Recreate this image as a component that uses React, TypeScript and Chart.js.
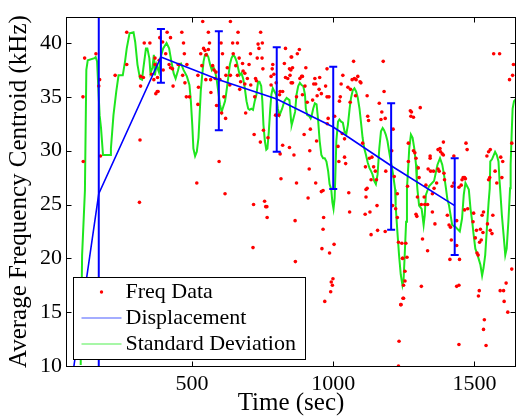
import React, { useEffect, useRef } from "react";
import { Chart, registerables } from "chart.js";

Chart.register(...registerables);
Chart.defaults.font.family = '"Liberation Serif", "Times New Roman", serif';
Chart.defaults.color = "#000";

// ---- axes ----
const xTicks = [500, 1000, 1500];
const yTicks = [10, 15, 20, 25, 30, 35, 40];
const xMin = 54;
const xMax = 1647;
const yMin = 10;
const yMax = 42.4;

// ---- Displacement (blue) with error bars ----
const dispTimes = [82, 170, 390, 595, 800, 1000, 1205, 1430];
const dispValues = [10, 26.0, 38.7, 36.6, 34.8, 32.2, 28.6, 24.9];
const errLow = [null, 9, 36.3, 31.9, 29.9, 26.45, 22.65, 20.3];
const errHigh = [null, 43, 41.3, 41.1, 39.6, 37.8, 34.4, 29.3];

// ---- Standard Deviation (green) trace: [time, kHz] ----
const stdTrace: [number, number][] = [
  [106, 10.1], [111, 20.3], [121, 26.3], [126, 37.5], [131, 38.4], [155, 38.6], [159, 38.7], [164, 38.3],
  [173, 33.3], [178, 32.1], [185, 29.6], [211, 29.6], [213, 30.2], [222, 33.3], [232, 35.5], [240, 37.0],
  [255, 37.0], [263, 38.3], [269, 39.5], [279, 40.9], [293, 41.0], [299, 40.1], [307, 38.0], [316, 36.7],
  [323, 36.6], [328, 37.7], [337, 39.5], [342, 39.5], [349, 38.6], [353, 37.2], [360, 37.7], [365, 38.9],
  [369, 37.0], [374, 38.0], [383, 37.3], [388, 38.6], [398, 39.5], [410, 40.0], [419, 39.5], [427, 38.3],
  [435, 37.2], [442, 36.7], [450, 37.4], [456, 38.0], [461, 38.1], [470, 37.5], [482, 36.9], [491, 36.1],
  [496, 34.6], [501, 32.4], [505, 30.2], [511, 29.5], [517, 29.9], [523, 31.2], [527, 33.3], [531, 35.5],
  [536, 37.0], [541, 38.3], [546, 38.9], [552, 39.0], [558, 38.7], [564, 38.0], [570, 37.5], [576, 37.8],
  [582, 37.3], [587, 36.7], [593, 35.5], [599, 34.3], [605, 33.6], [611, 34.1], [617, 34.6], [622, 35.5],
  [628, 36.7], [634, 38.0], [640, 38.6], [646, 38.9], [652, 38.7], [658, 38.3], [663, 37.7], [669, 37.0],
  [675, 37.2], [681, 36.7], [687, 35.8], [693, 34.6], [699, 33.9], [704, 33.8], [710, 33.9], [716, 33.8],
  [722, 34.6], [728, 35.2], [734, 36.4], [739, 36.4], [745, 36.0], [749, 34.6], [753, 32.4], [758, 30.9],
  [763, 30.1], [767, 30.2], [772, 31.8], [777, 33.9], [781, 35.2], [786, 35.8], [792, 35.5], [798, 35.2],
  [804, 33.9], [810, 33.3], [819, 33.9], [827, 34.6], [835, 34.9], [845, 34.7], [851, 32.7], [853, 32.4],
  [859, 33.0], [865, 33.6], [870, 35.2], [876, 36.0], [882, 36.3], [888, 36.1], [894, 36.0], [900, 35.2],
  [903, 33.9], [908, 33.3], [915, 33.2], [920, 33.0], [924, 33.3], [929, 33.9], [935, 34.4], [941, 34.3],
  [946, 33.0], [952, 30.9], [958, 29.6], [964, 29.3], [970, 29.3], [976, 29.0], [982, 28.1], [987, 26.9],
  [993, 26.4], [997, 25.2], [1001, 24.6], [1005, 25.6], [1008, 28.1], [1011, 30.9], [1017, 32.7], [1022, 32.9],
  [1028, 32.7], [1034, 32.6], [1040, 31.8], [1046, 31.5], [1052, 32.4], [1058, 33.9], [1063, 34.9], [1069, 35.6],
  [1075, 35.8], [1081, 35.5], [1087, 34.9], [1093, 33.9], [1098, 32.7], [1104, 31.2], [1110, 30.2], [1116, 29.6],
  [1122, 28.9], [1128, 28.4], [1134, 28.1], [1139, 27.8], [1145, 27.2], [1151, 26.9], [1157, 27.8], [1163, 30.2],
  [1169, 31.8], [1175, 32.1], [1180, 31.9], [1186, 31.5], [1192, 30.9], [1198, 29.9], [1204, 29.0], [1210, 28.1],
  [1215, 27.2], [1219, 26.4], [1221, 24.9], [1227, 22.5], [1233, 20.3], [1239, 18.5], [1245, 17.5], [1249, 18.0],
  [1253, 20.3], [1258, 23.4], [1261, 26.5], [1266, 28.7], [1269, 30.2], [1275, 31.5], [1281, 31.2], [1287, 30.2],
  [1293, 28.7], [1296, 27.1], [1298, 26.4], [1304, 24.9], [1313, 24.6], [1320, 23.1], [1324, 24.0], [1328, 25.9],
  [1339, 26.7], [1357, 27.2], [1369, 28.7], [1378, 29.3], [1386, 28.7], [1392, 27.8], [1398, 26.7], [1404, 25.5],
  [1410, 24.9], [1421, 23.1], [1433, 22.9], [1448, 22.5], [1456, 23.7], [1462, 25.9], [1468, 27.0], [1474, 26.7],
  [1480, 26.4], [1486, 24.6], [1492, 23.4], [1497, 22.2], [1503, 20.9], [1511, 20.3], [1521, 19.4], [1527, 18.4],
  [1532, 19.1], [1538, 20.3], [1544, 22.8], [1550, 25.2], [1554, 26.5], [1556, 29.0], [1562, 29.2], [1573, 29.9],
  [1579, 29.6], [1585, 29.0], [1589, 27.1], [1591, 26.4], [1597, 24.0], [1603, 22.2], [1609, 20.3], [1614, 20.9],
  [1620, 23.4], [1626, 26.5], [1628, 28.7], [1632, 31.8], [1635, 33.9], [1640, 34.6], [1647, 34.8],
];

// ---- Freq Data (red dots): [time, kHz] ----
const freqEarly: [number, number][] = [
  [269, 41.0], [160, 39.0], [120, 38.6], [173, 36.6], [170, 36.0], [114, 35.0], [115, 29.0], [176, 29.5],
  [228, 37.0], [269, 38.0], [331, 40.0], [351, 40.0], [318, 36.9], [328, 36.8], [318, 36.0], [316, 31.0],
  [369, 38.6], [369, 38.0], [357, 37.1], [365, 36.6], [378, 36.8], [384, 38.4], [386, 40.5], [396, 40.1],
  [412, 41.0], [424, 40.5], [407, 39.0], [398, 37.5], [377, 35.5], [380, 35.5], [372, 35.3], [419, 38.0],
  [424, 37.7], [431, 37.6], [433, 36.0], [451, 38.0], [314, 25.2],
];
const freqMidA: [number, number][] = [
  [538, 42.0], [636, 42.0], [464, 41.0], [558, 41.0], [663, 41.0], [743, 41.0], [470, 40.0], [562, 40.0],
  [603, 40.0], [644, 40.0], [661, 40.0], [734, 39.9], [749, 40.0], [737, 39.5], [541, 39.5], [546, 39.3],
  [558, 39.4], [473, 39.0], [531, 39.0], [550, 38.9], [608, 39.0], [646, 39.0], [707, 39.0], [667, 38.6],
  [731, 38.6], [748, 38.6], [831, 39.5], [851, 38.7], [454, 38.0], [482, 38.0], [535, 37.9], [573, 37.9],
  [578, 37.5], [625, 37.7], [655, 37.9], [679, 38.1], [702, 38.0], [751, 37.6], [786, 38.0], [784, 37.6],
  [827, 38.1], [845, 37.6], [467, 37.0], [521, 37.0], [585, 37.3], [620, 37.0], [636, 37.0], [661, 37.0],
  [687, 37.2], [681, 37.4], [696, 36.7], [725, 36.7], [780, 36.9], [790, 37.1], [831, 36.8], [839, 36.7],
  [847, 37.0], [475, 36.3], [549, 36.6], [566, 36.6], [582, 36.7], [599, 36.6], [634, 36.1], [672, 36.4],
  [687, 36.2], [708, 36.1], [728, 36.5], [780, 36.1], [798, 36.3], [851, 36.3], [523, 35.9], [567, 35.4],
  [669, 35.7], [812, 35.5], [821, 35.5], [810, 35.2], [480, 35.0], [491, 35.0], [613, 35.0], [722, 35.0],
  [521, 34.3], [587, 34.2], [605, 33.5], [690, 33.5], [796, 33.3], [807, 33.3], [619, 33.0], [753, 31.9],
  [720, 31.5], [769, 31.2], [742, 30.8], [821, 30.5], [845, 30.3], [812, 29.7], [596, 29.0], [517, 27.0],
  [815, 27.4], [617, 26.0], [718, 25.0], [757, 25.3], [761, 24.8], [765, 24.8], [766, 23.8], [716, 21.0],
];
const freqMidB: [number, number][] = [
  [880, 39.4], [873, 39.0], [853, 38.7], [856, 37.7], [850, 37.5], [903, 37.7], [888, 36.9], [882, 36.7],
  [891, 36.9], [952, 36.8], [935, 36.7], [978, 37.6], [1034, 37.0], [1072, 38.3], [1177, 38.3], [1067, 36.6],
  [1075, 36.7], [1087, 36.9], [1081, 36.6], [1095, 36.4], [1098, 36.3], [856, 36.3], [900, 36.0], [931, 36.2],
  [938, 36.2], [973, 36.0], [1028, 36.2], [1052, 35.9], [1061, 35.7], [950, 35.7], [958, 35.3], [943, 35.1],
  [870, 35.0], [891, 35.2], [978, 35.0], [985, 35.0], [1025, 35.0], [1120, 35.1], [927, 34.7], [908, 34.5],
  [1022, 34.6], [1060, 34.5], [1079, 35.1], [1163, 34.4], [1180, 35.5], [1172, 33.6], [1169, 32.9], [1184, 33.0],
  [1212, 32.0], [1122, 33.2], [1125, 32.8], [982, 33.0], [1005, 33.2], [979, 32.5], [919, 32.0], [1032, 31.6],
  [1040, 31.1], [1104, 30.7], [897, 31.5], [941, 30.9], [1017, 30.4], [917, 30.0], [861, 29.6], [1207, 30.0],
  [1128, 29.3], [1137, 29.4], [1020, 29.0], [1040, 29.4], [1044, 28.8], [1114, 28.5], [1143, 28.5], [1149, 28.1],
  [1186, 28.1], [915, 28.3], [1134, 27.3], [1153, 27.3], [870, 27.0], [938, 27.0], [1120, 26.5], [964, 26.3],
  [1216, 27.6],
];
const freqMidLow: [number, number][] = [
  [911, 25.6], [958, 26.2], [1055, 26.1], [1116, 25.7], [1116, 26.4], [1155, 24.9], [1130, 24.3], [1113, 24.1],
  [1058, 24.3], [966, 23.8], [865, 23.5], [964, 22.7], [1157, 22.6], [1184, 22.5], [1134, 22.2], [1003, 21.3],
  [960, 20.9], [987, 20.5], [866, 19.7], [999, 18.1], [993, 17.8], [997, 17.5], [991, 16.9], [970, 16.0],
  [1233, 12.3], [1231, 10.0], [1227, 26.0], [1210, 24.9], [1221, 24.6], [1231, 21.5], [1245, 20.0], [1247, 16.3],
  [1239, 15.7], [1227, 23.8],
];
const freqLateA: [number, number][] = [
  [1568, 39.0], [1589, 39.0], [1638, 38.0], [1635, 37.0], [1624, 36.6], [1308, 34.0], [1273, 33.7], [1277, 33.6],
  [1275, 33.2], [1284, 33.1], [1266, 30.7], [1390, 30.8], [1470, 30.7], [1284, 30.0], [1289, 29.8], [1293, 29.3],
  [1378, 30.2], [1371, 30.1], [1380, 29.9], [1386, 29.7], [1390, 29.6], [1474, 30.1], [1343, 29.5], [1343, 29.3],
  [1266, 29.0], [1556, 30.1], [1550, 29.9], [1544, 29.5], [1593, 29.4], [1600, 29.0], [1301, 28.4], [1336, 28.3],
  [1345, 28.1], [1355, 28.1], [1371, 28.3], [1375, 28.1], [1392, 27.9], [1427, 29.5], [1573, 28.1], [1304, 27.5],
  [1394, 27.3], [1460, 27.5], [1465, 27.5], [1468, 27.4], [1456, 27.3], [1554, 27.5], [1550, 27.3], [1597, 27.5],
  [1328, 26.8], [1357, 26.5], [1366, 27.0], [1427, 27.0], [1421, 26.7], [1445, 26.6], [1453, 26.8], [1579, 27.0],
  [1263, 26.7], [1632, 30.7],
];
const freqLateB: [number, number][] = [
  [1298, 25.7], [1351, 26.0], [1322, 25.7], [1312, 25.0], [1334, 25.0], [1324, 25.0], [1351, 24.3], [1293, 24.1],
  [1296, 23.9], [1404, 24.0], [1360, 23.2], [1410, 23.1], [1415, 22.9], [1437, 23.5], [1465, 24.5], [1476, 24.6],
  [1497, 24.2], [1532, 24.3], [1527, 24.0], [1565, 24.0], [1495, 23.4], [1546, 23.2], [1507, 22.6], [1521, 22.7],
  [1530, 22.4], [1556, 22.6], [1562, 22.3], [1503, 21.9], [1524, 21.7], [1518, 21.5], [1418, 21.7], [1437, 21.2],
  [1316, 21.8], [1334, 20.7], [1243, 21.4], [1257, 21.4], [1261, 20.1], [1246, 20.0], [1413, 19.9], [1447, 19.9],
  [1509, 20.5], [1513, 20.3], [1632, 19.0], [1254, 18.8], [1254, 17.9], [1249, 17.5], [1312, 17.4], [1437, 17.4],
  [1445, 17.5], [1612, 17.7], [1591, 17.0], [1603, 17.0], [1517, 17.0], [1514, 16.5], [1249, 16.3], [1240, 15.7],
  [1605, 16.0], [1618, 15.0], [1535, 14.3], [1532, 13.4], [1445, 12.0], [1541, 11.9],
];

const legendItems = ["Freq Data", "Displacement", "Standard Deviation"];

const RED = "#ff0000";
const BLUE = "#0000ff";
const GREEN = "#1ee61e";
const FONT = '"Liberation Serif", "Times New Roman", serif';

const errorBarPlugin = {
  id: "errorBars",
  afterDatasetsDraw(chart: any) {
    const { ctx, chartArea: a, scales } = chart;
    const x = scales.x, y = scales.y;
    ctx.save();
    ctx.beginPath();
    ctx.rect(a.left, a.top, a.right - a.left, a.bottom - a.top);
    ctx.clip();
    ctx.strokeStyle = BLUE;
    ctx.lineWidth = 2;
    dispTimes.forEach((t, i) => {
      const lo = errLow[i], hi = errHigh[i];
      if (lo == null || hi == null) return;
      const px = x.getPixelForValue(t);
      const pt = y.getPixelForValue(hi);
      const pb = y.getPixelForValue(lo);
      ctx.beginPath();
      ctx.moveTo(px, pt); ctx.lineTo(px, pb);
      ctx.moveTo(px - 4, pt); ctx.lineTo(px + 4, pt);
      ctx.moveTo(px - 4, pb); ctx.lineTo(px + 4, pb);
      ctx.stroke();
    });
    ctx.restore();

    // axes box with inward ticks
    const L = Math.floor(a.left) + 0.5, R = Math.floor(a.right) - 0.5;
    const T = Math.floor(a.top) + 0.5, B = Math.floor(a.bottom) + 0.5;
    ctx.save();
    ctx.strokeStyle = "#000";
    ctx.lineWidth = 1;
    ctx.strokeRect(L, T, R - L, B - T);
    ctx.beginPath();
    xTicks.forEach((v) => {
      const px = Math.round(x.getPixelForValue(v)) + 0.5;
      ctx.moveTo(px, B); ctx.lineTo(px, B - 5);
      ctx.moveTo(px, T); ctx.lineTo(px, T + 5);
    });
    yTicks.forEach((v) => {
      const py = Math.round(y.getPixelForValue(v)) + 0.5;
      ctx.moveTo(L, py); ctx.lineTo(L + 5, py);
      ctx.moveTo(R, py); ctx.lineTo(R - 5, py);
    });
    ctx.stroke();
    ctx.restore();
  },
};

const legendPlugin = {
  id: "matlabLegend",
  afterDraw(chart: any) {
    const { ctx, chartArea: a } = chart;
    const bx = a.left + 7.5, by = 277.5, bw = 232, bh = 82;
    ctx.save();
    ctx.fillStyle = "#fff";
    ctx.fillRect(bx, by, bw, bh);
    ctx.strokeStyle = "#000";
    ctx.lineWidth = 1;
    ctx.strokeRect(bx, by, bw, bh);
    const rows = [by + 14.5, by + 40.5, by + 66.5];
    const sx0 = bx + 8, sx1 = bx + 48, tx = bx + 52;
    // red dot
    ctx.fillStyle = RED;
    ctx.beginPath();
    ctx.arc((sx0 + sx1) / 2, rows[0], 1.7, 0, Math.PI * 2);
    ctx.fill();
    // lines
    ctx.lineWidth = 1.2;
    ctx.strokeStyle = "#4a5cff";
    ctx.beginPath(); ctx.moveTo(sx0, rows[1]); ctx.lineTo(sx1, rows[1]); ctx.stroke();
    ctx.strokeStyle = "#50f050";
    ctx.beginPath(); ctx.moveTo(sx0, rows[2]); ctx.lineTo(sx1, rows[2]); ctx.stroke();
    ctx.fillStyle = "#000";
    ctx.font = `22px ${FONT}`;
    ctx.textBaseline = "middle";
    ctx.textAlign = "left";
    legendItems.forEach((t, i) => ctx.fillText(t, tx, rows[i]));
    ctx.restore();
  },
};

export default function App() {
  const ref = useRef<HTMLCanvasElement | null>(null);
  useEffect(() => {
    if (!ref.current) return;
    const toXY = (arr: [number, number][]) => arr.map(([x, y]) => ({ x, y }));
    const freqAll = [...freqEarly, ...freqMidA, ...freqMidB, ...freqMidLow, ...freqLateA, ...freqLateB];
    const chart = new Chart(ref.current, {
      type: "scatter",
      data: {
        datasets: [
          {
            type: "line",
            label: legendItems[1],
            data: dispTimes.map((t, i) => ({ x: t, y: dispValues[i] })),
            borderColor: BLUE,
            borderWidth: 1.6,
            pointRadius: 0,
            tension: 0,
            fill: false,
            order: 0,
          } as any,
          {
            type: "scatter",
            label: legendItems[0],
            data: toXY(freqAll),
            backgroundColor: RED,
            borderWidth: 0,
            pointRadius: 1.8,
            order: 1,
          } as any,
          {
            type: "line",
            label: legendItems[2],
            data: toXY(stdTrace),
            borderColor: GREEN,
            borderWidth: 2,
            pointRadius: 0,
            tension: 0,
            fill: false,
            order: 2,
          } as any,
        ],
      },
      options: {
        animation: false,
        responsive: false,
        events: [],
        layout: { padding: { top: 16, left: 0, right: 0, bottom: 0 } },
        plugins: { legend: { display: false }, tooltip: { enabled: false } },
        scales: {
          x: {
            type: "linear",
            min: xMin,
            max: xMax,
            afterBuildTicks: (s: any) => { s.ticks = xTicks.map((v) => ({ value: v })); },
            afterFit: (s: any) => { s.height = 52; },
            grid: { display: false, drawTicks: false },
            border: { display: false },
            ticks: {
              padding: 5, font: { size: 22 }, color: "#000", maxRotation: 0, autoSkip: false,
              callback: (v: any) => String(v),
            },
            title: { display: true, text: "Time (sec)", font: { size: 25 }, color: "#000", padding: { top: 0, bottom: 0 } },
          },
          y: {
            type: "linear",
            min: yMin,
            max: yMax,
            afterBuildTicks: (s: any) => { s.ticks = yTicks.map((v) => ({ value: v })); },
            afterFit: (s: any) => { s.width = 66; },
            grid: { display: false, drawTicks: false },
            border: { display: false },
            ticks: { padding: 4, font: { size: 22 }, color: "#000", autoSkip: false, callback: (v: any) => String(v) },
            title: { display: true, text: "Average Frequency Centroid (kHz)", font: { size: 25 }, color: "#000", padding: { top: 4, bottom: 0 } },
          },
        },
      } as any,
      plugins: [errorBarPlugin, legendPlugin],
    });
    return () => chart.destroy();
  }, []);
  return (
    <div style={{ position: "absolute", left: 0, top: 0, width: 518, height: 418, overflow: "hidden", background: "#fff" }}>
      <canvas ref={ref} width={520} height={418} style={{ display: "block" }} />
    </div>
  );
}
